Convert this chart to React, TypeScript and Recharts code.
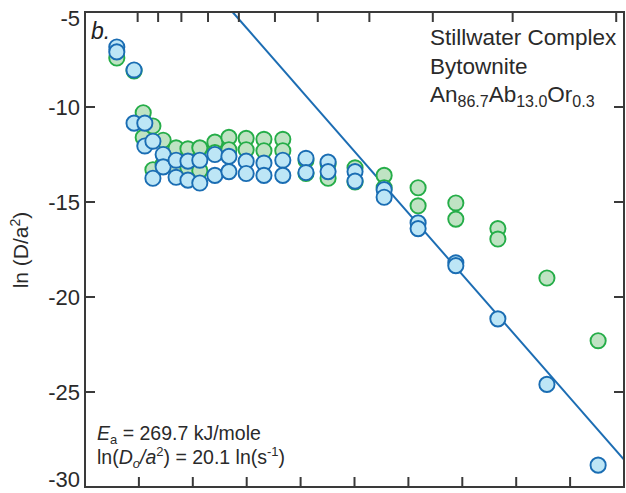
import { ScatterChart, Scatter, XAxis, YAxis } from "recharts";

// step-heating results: 10^4/T (K) and ln(D/a^2)
const greenX = [5.59, 5.91, 6.08, 6.08, 6.26, 6.26, 6.45, 6.45, 6.69, 6.69, 6.91, 6.91, 7.13, 7.13, 7.41, 7.41, 7.67, 7.67, 7.99, 7.99, 8.32, 8.32, 8.67, 8.67, 9.1, 9.1, 9.51, 9.51, 10.01, 10.01, 10.55, 10.55, 11.18, 11.18, 11.88, 11.88, 12.66, 12.66, 13.57, 14.52];
const greenY = [-7.42, -8.1, -10.3, -11.6, -11.0, -13.3, -11.75, -13.0, -12.15, -13.2, -12.2, -13.2, -12.15, -13.35, -11.85, -12.4, -11.6, -12.25, -11.65, -12.25, -11.7, -12.3, -11.7, -12.3, -12.8, -13.5, -13.0, -13.75, -13.2, -13.95, -13.6, -14.25, -14.25, -15.2, -15.05, -15.9, -16.4, -16.95, -19.0, -22.3];

const blueX = [5.59, 5.59, 5.91, 5.91, 6.11, 6.11, 6.26, 6.26, 6.45, 6.45, 6.69, 6.69, 6.91, 6.91, 7.13, 7.13, 7.41, 7.41, 7.67, 7.67, 7.99, 7.99, 8.32, 8.32, 8.67, 8.67, 9.1, 9.1, 9.51, 9.51, 10.01, 10.01, 10.55, 10.55, 11.18, 11.18, 11.88, 11.88, 12.66, 13.57, 14.52];
const blueY = [-6.84, -7.1, -8.05, -10.85, -10.85, -12.05, -11.8, -13.75, -12.5, -13.15, -12.8, -13.7, -12.85, -13.85, -12.8, -14.0, -12.5, -13.6, -12.6, -13.4, -12.85, -13.5, -12.95, -13.6, -12.8, -13.6, -12.7, -13.45, -12.9, -13.4, -13.4, -13.9, -14.35, -14.75, -16.1, -16.4, -18.2, -18.35, -21.15, -24.6, -28.85];

// Arrhenius fit
const Ea = 269.7; // kJ/mole
const lnD0 = 20.1;
const R = 8.314;

const xTicks = [5, 6, 7, 8, 9, 10, 11, 12, 13, 14, 15];
const yTicks = [-30, -25, -20, -15, -10, -5];
const topTempsC = [1400, 1300, 1200, 1100, 1000, 900, 800, 700, 600, 500, 400];

const greenData = greenX.map((x, i) => ({ x, y: greenY[i] }));
const blueData = blueX.map((x, i) => ({ x, y: blueY[i] }));
const topTicks = topTempsC.map((t) => 1e4 / (t + 273.15));

const slope = (Ea * 1000) / R / 1e4;
const fitAt = (x: number) => lnD0 - slope * x;
const xStart = (lnD0 + 5) / slope; // where the fit leaves the top of the plot
const fitLine = [
  { x: xStart, y: fitAt(xStart) },
  { x: 15, y: fitAt(15) },
];

const FONT = "'Liberation Sans', Arial, sans-serif";
const AXIS = "#3a3a3a";
const TICK = 10;

// plot box, shared by the chart margins and the frame overlay
const W = 626;
const H = 493;
const LEFT = 85;
const TOP = 12;
const RIGHT = 624;
const BOTTOM = 487;
const sx = (v: number) => LEFT + ((v - 5) / 10) * (RIGHT - LEFT);
const sy = (v: number) => TOP + ((-5 - v) / 25) * (BOTTOM - TOP);

const dot = (fill: string, stroke: string) => (p: any) => (
  <circle cx={p.cx} cy={p.cy} r={7.6} fill={fill} stroke={stroke} strokeWidth={1.9} />
);
const none = () => <g />;

const LeftTick = (p: any) => {
  const v = p.payload.value;
  const shift = v === -5 ? 6 : v === -30 ? -8 : 0;
  return (
    <text x={p.x - 5} y={p.y + shift} dy="0.35em" textAnchor="end" fontSize={22} fontFamily={FONT} fill="#2a2a2a">
      {v}
    </text>
  );
};

export default function App() {
  return (
    <div style={{ position: "absolute", left: 0, top: 0, width: W, height: H }}>
      <ScatterChart width={W} height={H} margin={{ top: TOP, right: W - RIGHT, bottom: 0, left: 0 }}>
        <XAxis
          dataKey="x"
          type="number"
          domain={[5, 15]}
          ticks={xTicks}
          interval={0}
          tick={false}
          tickLine={false}
          axisLine={false}
          height={H - BOTTOM}
        />
        <YAxis
          dataKey="y"
          type="number"
          domain={[-30, -5]}
          ticks={yTicks}
          interval={0}
          width={LEFT}
          tick={LeftTick}
          tickLine={false}
          axisLine={false}
          tickSize={0}
          tickMargin={0}
        />
        <Scatter
          data={fitLine}
          line={{ stroke: "#1c6db3", strokeWidth: 2 }}
          shape={none}
          isAnimationActive={false}
        />
        <Scatter data={greenData} shape={dot("#bfe3c3", "#25ad48")} isAnimationActive={false} />
        <Scatter data={blueData} shape={dot("#bde6f6", "#1a6db3")} isAnimationActive={false} />
      </ScatterChart>
      <svg
        width={W}
        height={H}
        style={{ position: "absolute", left: 0, top: 0, pointerEvents: "none" }}
        fontFamily={FONT}
      >
        {/* boxed frame with inward ticks: 10^4/T below, temperature steps above */}
        <g stroke={AXIS} strokeWidth={2} fill="none">
          <rect x={LEFT} y={TOP} width={RIGHT - LEFT} height={BOTTOM - TOP} />
          {xTicks.map((t) => (
            <line key={`b${t}`} x1={sx(t)} x2={sx(t)} y1={BOTTOM} y2={BOTTOM - TICK} />
          ))}
          {topTicks.map((t) => (
            <line key={`t${t}`} x1={sx(t)} x2={sx(t)} y1={TOP} y2={TOP + TICK} />
          ))}
          {yTicks.map((v) => (
            <line key={`l${v}`} x1={LEFT} x2={LEFT + TICK} y1={sy(v)} y2={sy(v)} />
          ))}
          {yTicks.map((v) => (
            <line key={`r${v}`} x1={RIGHT} x2={RIGHT - TICK} y1={sy(v)} y2={sy(v)} />
          ))}
        </g>
        <text x={91} y={39} fontSize={23} fontStyle="italic" fill="#222">
          b.
        </text>
        <text transform="translate(28,250) rotate(-90)" textAnchor="middle" fontSize={21} fill="#2a2a2a">
          ln (D/a<tspan fontSize={14} dy={-8}>2</tspan>
          <tspan dy={8}>)</tspan>
        </text>
        <g fontSize={22.5} fill="#2a2a2a">
          <text x={430} y={45}>Stillwater Complex</text>
          <text x={430} y={74}>Bytownite</text>
          <text x={430} y={102}>
            An<tspan fontSize={16} dy={5}>86.7</tspan>
            <tspan dy={-5}>Ab</tspan>
            <tspan fontSize={16} dy={5}>13.0</tspan>
            <tspan dy={-5}>Or</tspan>
            <tspan fontSize={16} dy={5}>0.3</tspan>
          </text>
        </g>
        <g fontSize={19.5} fill="#2a2a2a">
          <text x={97} y={440}>
            <tspan fontStyle="italic">E</tspan>
            <tspan fontSize={13} dy={4}>a</tspan>
            <tspan dy={-4}> = 269.7 kJ/mole</tspan>
          </text>
          <text x={97} y={464}>
            ln(<tspan fontStyle="italic">D</tspan>
            <tspan fontSize={13} fontStyle="italic" dy={4}>o</tspan>
            <tspan fontStyle="italic" dy={-4}>/a</tspan>
            <tspan fontSize={13} dy={-8}>2</tspan>
            <tspan dy={8}>) = 20.1 ln(s</tspan>
            <tspan fontSize={13} dy={-8}>-1</tspan>
            <tspan dy={8}>)</tspan>
          </text>
        </g>
      </svg>
    </div>
  );
}
